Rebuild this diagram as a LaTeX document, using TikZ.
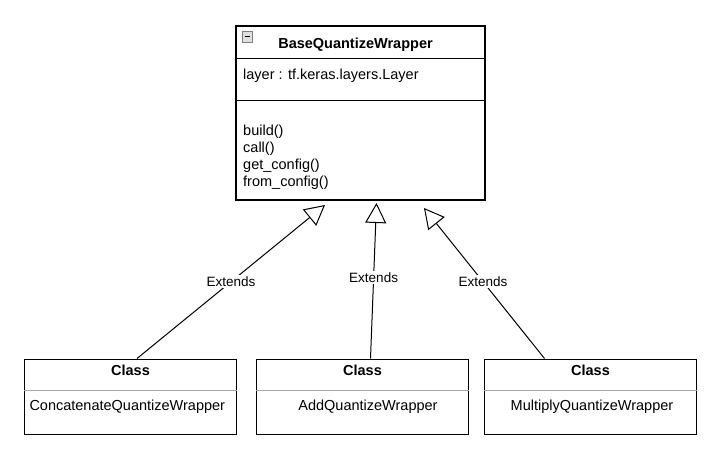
\documentclass[tikz,border=0pt]{standalone}
\usepackage{fontspec}
\setmainfont{Liberation Sans}
\usetikzlibrary{arrows.meta,positioning}

\begin{document}
\begin{tikzpicture}[x=1pt,y=-1pt,
    txt/.style={font=\fontsize{14.5}{17}\selectfont,inner sep=0pt},
    classbox/.style={draw,line width=1pt,minimum width=212,minimum height=75,inner sep=0pt}]

  \useasboundingbox (0,0) rectangle (720,450);

  % base class
  \node (base) [draw,line width=1.1pt,minimum width=249,minimum height=174,inner sep=0pt] at (360.5,113) {};
  \draw[line width=1pt] (236,58) -- (485,58);
  \draw[line width=1pt] (236,100) -- (485,100);
  \draw[gray,fill=gray!25] (242,31) rectangle (252.5,42);
  \draw[line width=1.3pt] (244.5,36.5) -- (250,36.5);

  \node (title) [txt,anchor=base,font=\fontsize{14.5}{17}\selectfont\bfseries] at (355.5,48) {BaseQuantizeWrapper};
  \node (attr)  [txt,anchor=base west] at (243,79.5) {layer : tf.keras.layers.Layer};
  \foreach \m [count=\i] in {build(),call(),get\_config(),from\_config()}
    \node (m\i) [txt,anchor=base west] at (243,117.8+17.2*\i) {\m};

  % subclasses
  \begin{scope}[every node/.style={classbox}]
    \node (cw) at (130.5,396.5) {};
    \node (aw) [right=19pt of cw] {};
    \node (mw) [right=15pt of aw] {};
  \end{scope}

  \foreach \c in {cw,aw,mw} {
    \draw[gray!70] ([yshift=-31.5pt]\c.north west) -- ([yshift=-31.5pt]\c.north east);
    \node [txt,anchor=base,font=\fontsize{14.5}{17}\selectfont\bfseries] at ([yshift=-17pt]\c.north) {Class};
  }
  \node (cwname) [txt,anchor=base west] at ([xshift=5.3pt,yshift=-51.7pt]cw.north west) {ConcatenateQuantizeWrapper};
  \node (awname) [txt,anchor=base] at ([xshift=5.5pt,yshift=-51.7pt]aw.north) {AddQuantizeWrapper};
  \node (mwname) [txt,anchor=base] at ([xshift=1.5pt,yshift=-51.7pt]mw.north) {MultiplyQuantizeWrapper};

  \coordinate (tipc) at (325,205);
  \coordinate (tipa) at (376.5,203);
  \coordinate (tipm) at (424,208);

  \begin{scope}[every node/.style={fill=white,inner sep=1.5pt,font=\fontsize{13.5}{16}\selectfont}]
    \begin{scope}[every edge/.style={draw,line width=1pt,-{Triangle[open,length=20pt,width=21pt,fill=white]}}]
      \path ([xshift=6.5pt]cw.north) edge node {Extends} (tipc);
      \path ([xshift=8pt]aw.north)   edge node[pos=0.52] {Extends} (tipa);
      \path ([xshift=-46pt]mw.north) edge node[pos=0.51] {Extends} (tipm);
    \end{scope}
  \end{scope}

\end{tikzpicture}
\end{document}
